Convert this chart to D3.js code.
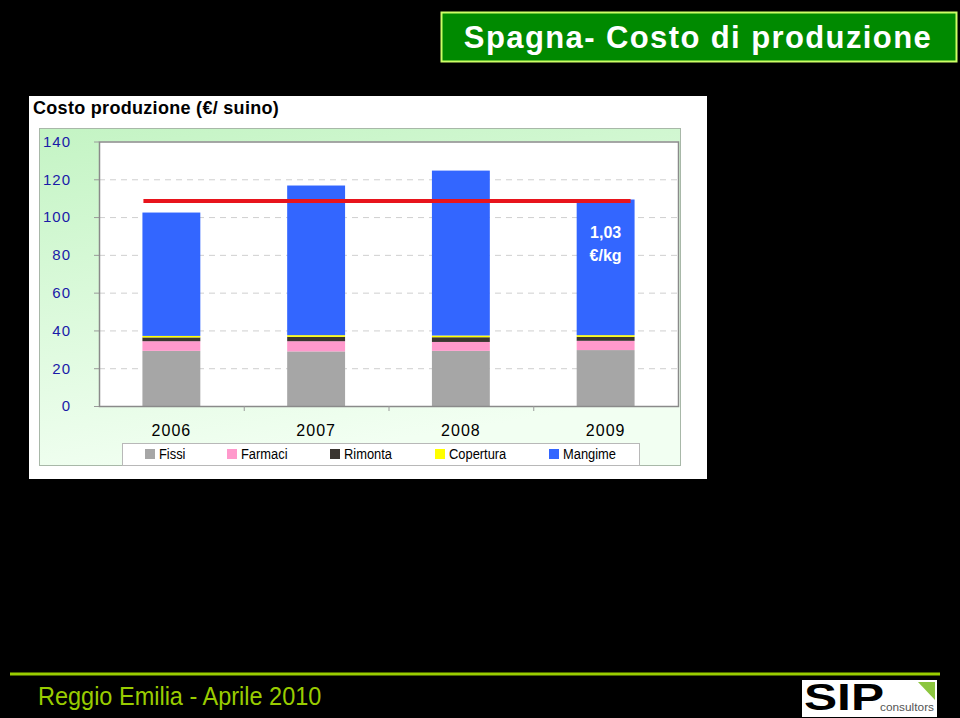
<!DOCTYPE html>
<html><head><meta charset="utf-8">
<script src="https://cdn.jsdelivr.net/npm/d3@7"></script>
<style>html,body{margin:0;padding:0;background:#000;}svg{display:block;}</style>
</head><body>
<svg id="c" width="960" height="718"></svg>
<script>
const years = ["2006", "2007", "2008", "2009"];
const fissi = [29.2, 28.9, 29.2, 29.6];
const farmaci = [5.1, 5.4, 4.7, 4.9];
const rimonta = [2.0, 2.3, 2.5, 2.1];
const copertura = [0.8, 0.9, 0.9, 0.9];
const mangime = [65.3, 79.2, 87.3, 71.8];
const seriesNames = ["Fissi", "Farmaci", "Rimonta", "Copertura", "Mangime"];
const seriesColors = ["#a6a6a6", "#ff99cc", "#3a3530", "#ffff00", "#3366ff"];
const yTicks = [0, 20, 40, 60, 80, 100, 120, 140];
const refValue = 108.5;
const refLabel = ["1,03", "€/kg"];

(function () {
const svg = d3.select("#c");
svg.append("rect").attr("width", 960).attr("height", 718).attr("fill", "#000");

// Title box
svg.append("rect").attr("x", 441.5).attr("y", 12.5).attr("width", 515).attr("height", 49)
  .attr("fill", "#008a00").attr("stroke", "#ccff66").attr("stroke-width", 2);
svg.append("text").attr("x", 698).attr("y", 48).attr("text-anchor", "middle")
  .attr("font-family", "Liberation Sans, Arial, sans-serif").attr("font-weight", "bold")
  .attr("font-size", 31).attr("letter-spacing", 1.4).attr("fill", "#fff").text("Spagna- Costo di produzione");

// Chart white box
svg.append("rect").attr("x", 29).attr("y", 96).attr("width", 678).attr("height", 383).attr("fill", "#fff");
svg.append("text").attr("x", 33).attr("y", 114)
  .attr("font-family", "Liberation Sans, Arial, sans-serif").attr("font-weight", "bold")
  .attr("font-size", 18).attr("letter-spacing", 0.3).attr("fill", "#000").text("Costo produzione (€/ suino)");

const defs = svg.append("defs");
const g = defs.append("linearGradient").attr("id", "gg").attr("x1", "0").attr("y1", "0").attr("x2", "0.3").attr("y2", "1");
g.append("stop").attr("offset", "0").attr("stop-color", "#c4f4c4");
g.append("stop").attr("offset", "1").attr("stop-color", "#f2fff2");
svg.append("rect").attr("x", 39.5).attr("y", 128.5).attr("width", 641).attr("height", 337)
  .attr("fill", "url(#gg)").attr("stroke", "#a8b8a8").attr("stroke-width", 1);

// Plot
const pL = 99, pR = 678, pT = 141.5, pB = 406;
svg.append("rect").attr("x", pL).attr("y", pT).attr("width", pR - pL).attr("height", pB - pT)
  .attr("fill", "#fff");

const x = d3.scaleBand().domain(years).range([pL, pR]).paddingInner(0).paddingOuter(0);
const y = d3.scaleLinear().domain([0, 140]).range([pB, pT]);

// gridlines
svg.append("g").selectAll("line").data(yTicks.filter(t => t > 0 && t < 140)).join("line")
  .attr("x1", pL).attr("x2", pR).attr("y1", d => y(d) + 0.5).attr("y2", d => y(d) + 0.5)
  .attr("stroke", "#cfcfcf").attr("stroke-dasharray", "6,5").attr("stroke-width", 1);

// y axis
const yAxis = d3.axisLeft(y).tickValues(yTicks).tickSize(5).tickPadding(23);
const ya = svg.append("g").attr("transform", `translate(${pL},0)`).call(yAxis);
ya.select(".domain").remove();
ya.selectAll(".tick line").attr("stroke", "#9a9a9a");
ya.selectAll(".tick text").attr("font-family", "Liberation Sans, Arial, sans-serif")
  .attr("font-size", 15).attr("fill", "#1a1aa8").attr("letter-spacing", 1);

// stacked bars
const rows = years.map((yr, i) => ({year: yr, Fissi: fissi[i], Farmaci: farmaci[i], Rimonta: rimonta[i], Copertura: copertura[i], Mangime: mangime[i]}));
const stack = d3.stack().keys(seriesNames)(rows);
const bw = x.bandwidth() * 0.4;
const off = (x.bandwidth() - bw) / 2;
svg.append("g").selectAll("g").data(stack).join("g")
  .attr("fill", (d, i) => seriesColors[i])
  .selectAll("rect").data(d => d).join("rect")
  .attr("x", d => x(d.data.year) + off).attr("width", bw)
  .attr("y", d => y(d[1])).attr("height", d => y(d[0]) - y(d[1]));

// plot border
svg.append("rect").attr("x", pL + 0.5).attr("y", pT + 0.5).attr("width", pR - pL).attr("height", pB - pT)
  .attr("fill", "none").attr("stroke", "#8a8a8a").attr("stroke-width", 1.5);

// x axis
const xAxis = d3.axisBottom(x).tickSize(0).tickPadding(19);
const xa = svg.append("g").attr("transform", `translate(0,${pB})`).call(xAxis);
xa.select(".domain").remove();
xa.selectAll(".tick text").attr("font-family", "Liberation Sans, Arial, sans-serif")
  .attr("font-size", 16).attr("fill", "#000").attr("letter-spacing", 1);
svg.append("g").selectAll("line").data(years.slice(1)).join("line")
  .attr("x1", d => x(d) + 0.5).attr("x2", d => x(d) + 0.5).attr("y1", pB).attr("y2", pB + 5)
  .attr("stroke", "#9a9a9a");

// reference line
svg.append("line")
  .attr("x1", x(years[0]) + off + 1).attr("x2", x(years[3]) + off + bw - 4)
  .attr("y1", y(refValue)).attr("y2", y(refValue))
  .attr("stroke", "#e8141c").attr("stroke-width", 4);
const lbl = svg.append("text").attr("text-anchor", "middle")
  .attr("font-family", "Liberation Sans, Arial, sans-serif").attr("font-weight", "bold")
  .attr("font-size", 16).attr("fill", "#fff");
lbl.selectAll("tspan").data(refLabel).join("tspan")
  .attr("x", x(years[3]) + x.bandwidth() / 2).attr("y", (d, i) => 238 + i * 23).text(d => d);

// legend
svg.append("rect").attr("x", 122.5).attr("y", 443.5).attr("width", 517).attr("height", 22)
  .attr("fill", "#fff").attr("stroke", "#b8b8b8");
const legX = [145, 227, 330, 435, 549];
const lg = svg.append("g").selectAll("g").data(seriesNames).join("g")
  .attr("transform", (d, i) => `translate(${legX[i]},449)`);
lg.append("rect").attr("width", 10).attr("height", 10).attr("fill", (d, i) => seriesColors[i]);
lg.append("text").attr("transform", "translate(14,10) scale(0.86,1)")
  .attr("font-family", "Liberation Sans, Arial, sans-serif")
  .attr("font-size", 15).attr("fill", "#000").text(d => d);

// footer
svg.append("line").attr("x1", 10).attr("x2", 940).attr("y1", 674).attr("y2", 674)
  .attr("stroke", "#99cc00").attr("stroke-width", 3);
svg.append("text").attr("transform", "translate(38,705) scale(0.94,1)")
  .attr("font-family", "Liberation Sans, Arial, sans-serif")
  .attr("font-size", 25).attr("fill", "#99cc00").text("Reggio Emilia - Aprile 2010");

// logo
svg.append("rect").attr("x", 802).attr("y", 680).attr("width", 135).attr("height", 37).attr("fill", "#fff");
svg.append("text").attr("x", 804).attr("y", 710)
  .attr("font-family", "Liberation Sans, Arial, sans-serif").attr("font-weight", "bold")
  .attr("font-size", 37).attr("textLength", 80).attr("lengthAdjust", "spacingAndGlyphs")
  .attr("fill", "#000").text("SIP");
svg.append("text").attr("x", 880).attr("y", 711)
  .attr("font-family", "Liberation Sans, Arial, sans-serif")
  .attr("font-size", 10).attr("textLength", 54).attr("lengthAdjust", "spacingAndGlyphs")
  .attr("fill", "#555").text("consultors");
svg.append("path").attr("d", "M918,682 L935,682 L935,700 Z").attr("fill", "#8cc63f");
})();
</script>
</body></html>
